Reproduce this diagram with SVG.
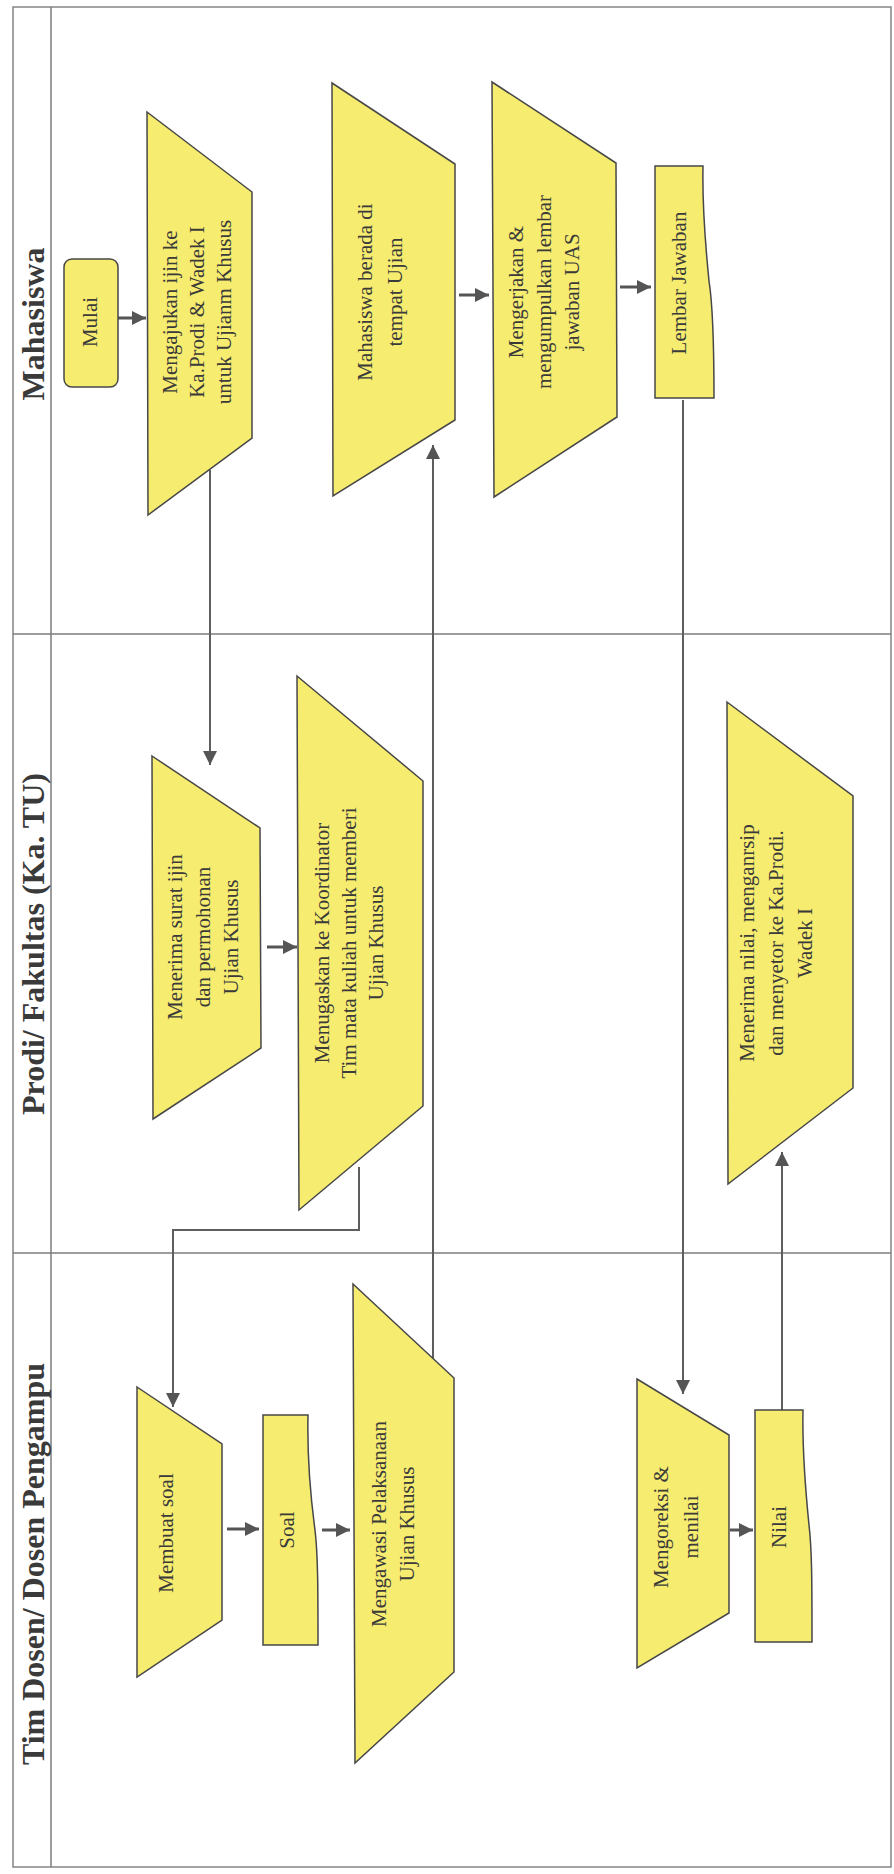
<svg xmlns="http://www.w3.org/2000/svg" width="894" height="1874" viewBox="0 0 894 1874">
<style>
.frame{fill:#ffffff;stroke:#858585;stroke-width:1.5}
.lane{stroke:#7d7d7d;stroke-width:1.5;fill:none}
.shape{fill:#f6ec6f;stroke:#474747;stroke-width:1.5}
.t{font-family:"Liberation Serif","Times New Roman",serif;font-size:21px;fill:#3a3a3a;text-anchor:middle}
.title{font-family:"Liberation Serif","Times New Roman",serif;font-size:32px;font-weight:bold;fill:#3a3a3a;text-anchor:middle}
.c{stroke:#5e5e5e;stroke-width:2;fill:none}
.cs{stroke:#555555;stroke-width:3;fill:none}
</style>
<defs>
<marker id="ah" markerWidth="14" markerHeight="14" refX="14" refY="7" orient="auto" markerUnits="userSpaceOnUse">
<path d="M0,0 L14,7 L0,14 Z" fill="#555555"/>
</marker>
</defs>

<g id="lanes">
<rect class="frame" x="13" y="7" width="878" height="1860"/>
<line class="lane" x1="51" y1="7" x2="51" y2="1867"/>
<line class="lane" x1="13" y1="634" x2="891" y2="634"/>
<line class="lane" x1="13" y1="1253" x2="891" y2="1253"/>
<text class="title" transform="translate(44,324) rotate(-90)">Mahasiswa</text>
<text class="title" transform="translate(44,944) rotate(-90)">Prodi/ Fakultas (Ka. TU)</text>
<text class="title" transform="translate(44,1564) rotate(-90)">Tim Dosen/ Dosen Pengampu</text>
</g>

<g id="connectors">
<path class="cs" d="M118,318 L146,318" marker-end="url(#ah)"/>
<path class="c" d="M210,470 L210,765" marker-end="url(#ah)"/>
<path class="cs" d="M267,947 L297,947" marker-end="url(#ah)"/>
<path class="c" d="M359,1167 L359,1230 L173,1230 L173,1407" marker-end="url(#ah)"/>
<path class="cs" d="M227,1529 L259,1529" marker-end="url(#ah)"/>
<path class="cs" d="M322,1530 L350,1530" marker-end="url(#ah)"/>
<path class="c" d="M433,1359 L433,445" marker-end="url(#ah)"/>
<path class="cs" d="M459,295 L489,295" marker-end="url(#ah)"/>
<path class="cs" d="M620,287 L651,287" marker-end="url(#ah)"/>
<path class="c" d="M683,400 L683,1394" marker-end="url(#ah)"/>
<path class="cs" d="M730,1530 L753,1530" marker-end="url(#ah)"/>
<path class="c" d="M782,1410 L782,1152" marker-end="url(#ah)"/>
</g>

<g id="mulai">
<rect class="shape" x="64" y="259" width="54" height="128" rx="8"/>
<text class="t" transform="translate(97,322) rotate(-90)">Mulai</text>
</g>

<g id="mengajukan">
<polygon class="shape" points="147,112 252,192 252,438 148,515"/>
<text class="t" transform="translate(177,312) rotate(-90)"><tspan x="0" y="0">Mengajukan ijin ke</tspan><tspan x="0" y="27">Ka.Prodi &amp; Wadek I</tspan><tspan x="0" y="54">untuk Ujianm Khusus</tspan></text>
</g>

<g id="berada">
<polygon class="shape" points="332,83 455,164 455,420 333,496"/>
<text class="t" transform="translate(372,292) rotate(-90)"><tspan x="0" y="0">Mahasiswa berada di</tspan><tspan x="0" y="30">tempat Ujian</tspan></text>
</g>

<g id="mengerjakan">
<polygon class="shape" points="492,82 616,163 617,417 494,497"/>
<text class="t" transform="translate(523,292) rotate(-90)"><tspan x="0" y="0">Mengerjakan &amp;</tspan><tspan x="0" y="28">mengumpulkan lembar</tspan><tspan x="0" y="56">jawaban UAS</tspan></text>
</g>

<g id="lembar-jawaban">
<path class="shape" d="M655,166 L703,166 C702,211 706,251 709,281 C713,306 714,341 714,398 L655,398 Z"/>
<text class="t" transform="translate(686,283) rotate(-90)">Lembar Jawaban</text>
</g>

<g id="menerima-surat">
<polygon class="shape" points="152,756 260,828 261,1048 153,1119"/>
<text class="t" transform="translate(182,937) rotate(-90)"><tspan x="0" y="0">Menerima surat ijin</tspan><tspan x="0" y="28">dan permohonan</tspan><tspan x="0" y="56">Ujian Khusus</tspan></text>
</g>

<g id="menugaskan">
<polygon class="shape" points="297,676 423,781 423,1106 299,1210"/>
<text class="t" transform="translate(329,943) rotate(-90)"><tspan x="0" y="0">Menugaskan ke Koordinator</tspan><tspan x="0" y="27">Tim mata kuliah untuk memberi</tspan><tspan x="0" y="54">Ujian Khusus</tspan></text>
</g>

<g id="menerima-nilai">
<polygon class="shape" points="727,702 853,796 853,1088 728,1184"/>
<text class="t" transform="translate(754,943) rotate(-90)"><tspan x="0" y="0">Menerima nilai, menganrsip</tspan><tspan x="0" y="29">dan menyetor ke Ka.Prodi.</tspan><tspan x="0" y="58">Wadek I</tspan></text>
</g>

<g id="membuat-soal">
<polygon class="shape" points="137,1387 222,1444 222,1620 137,1677"/>
<text class="t" transform="translate(173,1533) rotate(-90)">Membuat soal</text>
</g>

<g id="soal">
<path class="shape" d="M263,1415 L308,1415 C307,1460 311,1500 315,1530 C318,1555 318,1590 318,1645 L263,1645 Z"/>
<text class="t" transform="translate(294,1530) rotate(-90)">Soal</text>
</g>

<g id="mengawasi">
<polygon class="shape" points="353,1284 454,1378 454,1672 355,1763"/>
<text class="t" transform="translate(386,1524) rotate(-90)"><tspan x="0" y="0">Mengawasi Pelaksanaan</tspan><tspan x="0" y="28">Ujian Khusus</tspan></text>
</g>

<g id="mengoreksi">
<polygon class="shape" points="637,1379 729,1435 729,1613 637,1668"/>
<text class="t" transform="translate(668,1527) rotate(-90)"><tspan x="0" y="0">Mengoreksi &amp;</tspan><tspan x="0" y="30">menilai</tspan></text>
</g>

<g id="nilai">
<path class="shape" d="M755,1410 L803,1410 C802,1455 806,1495 809,1525 C812,1550 812,1585 812,1642 L755,1642 Z"/>
<text class="t" transform="translate(786,1527) rotate(-90)">Nilai</text>
</g>
</svg>
